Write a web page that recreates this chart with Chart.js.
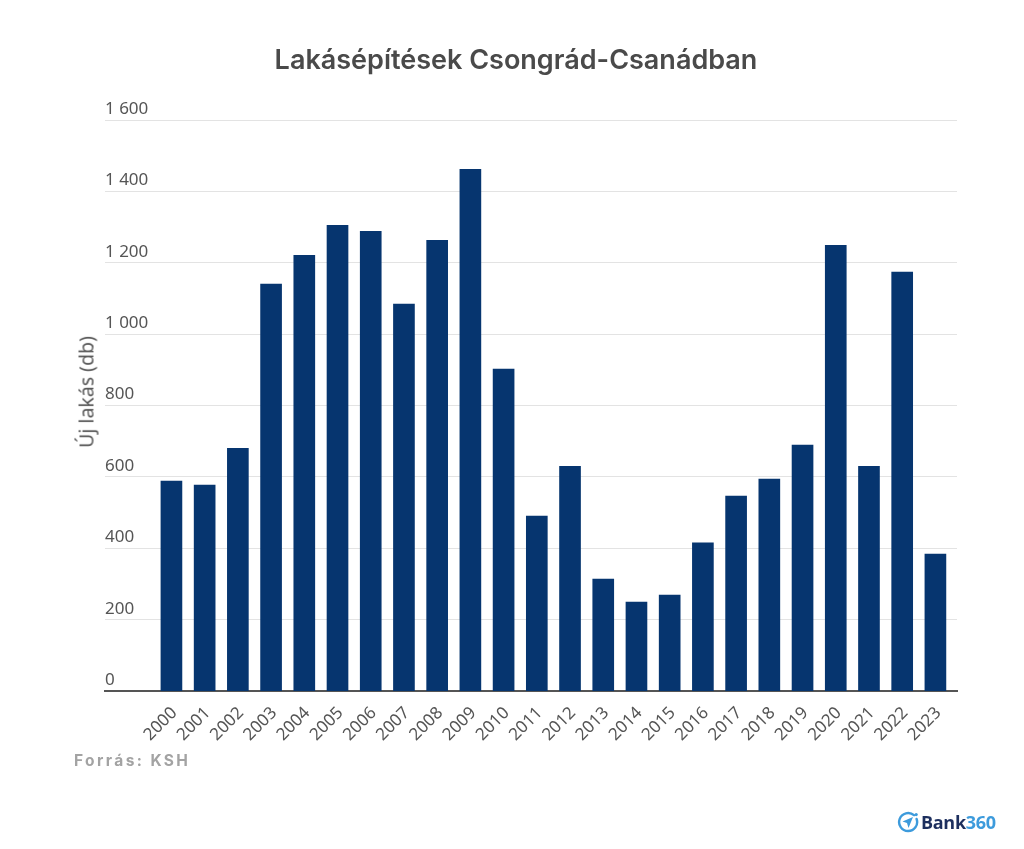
<!DOCTYPE html>
<html lang="hu">
<head>
<meta charset="utf-8">
<title>Lakásépítések Csongrád-Csanádban</title>
<script src="https://cdn.jsdelivr.net/npm/chart.js@4"></script>
<style>
    html, body { margin: 0; padding: 0; background: #fff; }
    #wrap { position: relative; width: 1024px; height: 849px; overflow: hidden; }
    canvas { position: absolute; left: 0; top: 0; }
    #cim { position: absolute; left: 516px; top: 59px; transform: translate(-50%, -50%); white-space: nowrap; font: 600 27px "Inter", sans-serif; color: #4a4a4a; }
    #forras { position: absolute; left: 74px; top: 751px; font: 700 15.5px "Inter", sans-serif; letter-spacing: 2.4px; color: #a3a3a3; }
    #tengely { position: absolute; left: 86px; top: 392px; transform: translate(-50%, -50%) rotate(-90deg); white-space: nowrap; font: 19.5px "Noto Sans", sans-serif; color: #555555; }
    #logo { position: absolute; left: 897px; top: 809px; width: 100px; height: 26px; display: flex; align-items: center; }
    #logo span { font: 700 18px "Open Sans", sans-serif; letter-spacing: -0.3px; color: #1d2f5e; margin-left: 2px; }
    #logo b { color: #3d9bdc; font-weight: 700; }
</style>
</head>
<body>
<div id="wrap">
    <canvas id="grafico" width="1024" height="849"></canvas>
    <div id="cim"></div>
    <div id="tengely"></div>
    <div id="forras">Forrás: KSH</div>
    <div id="logo">
        <svg width="22" height="22" viewBox="0 0 22 22">
            <path d="M17 4.2 A9 9 0 1 0 19.6 8" fill="none" stroke="#3d9bdc" stroke-width="2.4" stroke-linecap="round"/>
            <circle cx="19.2" cy="3.6" r="1.6" fill="#3d9bdc"/>
            <path d="M16 6 L5.5 10.5 L10 12 L11.5 17 Z" fill="#3d9bdc"/>
        </svg>
        <span>Bank<b>360</b></span>
    </div>
</div>
<script>
const evek = [2000, 2001, 2002, 2003, 2004, 2005, 2006, 2007, 2008, 2009, 2010, 2011,
    2012, 2013, 2014, 2015, 2016, 2017, 2018, 2019, 2020, 2021, 2022, 2023];
const ujLakasok = [588, 577, 680, 1140, 1221, 1305, 1288, 1084, 1263, 1462, 902, 490,
    630, 314, 249, 269, 415, 546, 594, 689, 1249, 630, 1174, 384];

const cim = 'Lakásépítések Csongrád-Csanádban';
const tengelyCim = 'Új lakás (db)';

// ezres tagolás szóközzel, pl. 1 200
function formatarTick(valor) {
    return String(valor).replace(/\B(?=(\d{3})+$)/g, ' ');
}

// a cím nem a rajzterület közepére esik, ezért HTML-ben van
document.getElementById('cim').textContent = cim;
document.getElementById('tengely').textContent = tengelyCim;

new Chart(document.getElementById('grafico').getContext('2d'), {
    type: 'bar',
    data: {
        datasets: [{
            label: tengelyCim,
            data: evek.map((ev, i) => ({ x: ev, y: ujLakasok[i] })),
            backgroundColor: '#06356f',
            barThickness: 21
        }]
    },
    options: {
        responsive: false,
        animation: false,
        layout: { padding: { left: 105, right: 67, top: 120, bottom: 100 } },
        plugins: {
            legend: { display: false },
            tooltip: { enabled: false }
        },
        scales: {
            x: {
                type: 'linear',
                offset: false,
                min: 1998,
                max: 2023.65,
                // csak az évekhez kell tick, a tengely eleje üres marad
                afterBuildTicks: scale => { scale.ticks = evek.map(ev => ({ value: ev })); },
                grid: { display: false },
                border: { color: '#555555', width: 2 },
                ticks: {
                    autoSkip: false,
                    minRotation: 45,
                    maxRotation: 45,
                    padding: 4,
                    labelOffset: 3,
                    color: '#555555',
                    font: { family: 'Noto Sans', size: 17 },
                    callback: v => String(v)
                }
            },
            y: {
                min: 0,
                max: 1600,
                grid: { color: '#e3e3e3', drawTicks: false },
                border: { display: false },
                ticks: {
                    stepSize: 200,
                    mirror: true,
                    padding: 0,
                    labelOffset: -11,
                    color: '#555555',
                    font: { family: 'Noto Sans', size: 17 },
                    callback: formatarTick
                }
            }
        }
    }
});
</script>
</body>
</html>
